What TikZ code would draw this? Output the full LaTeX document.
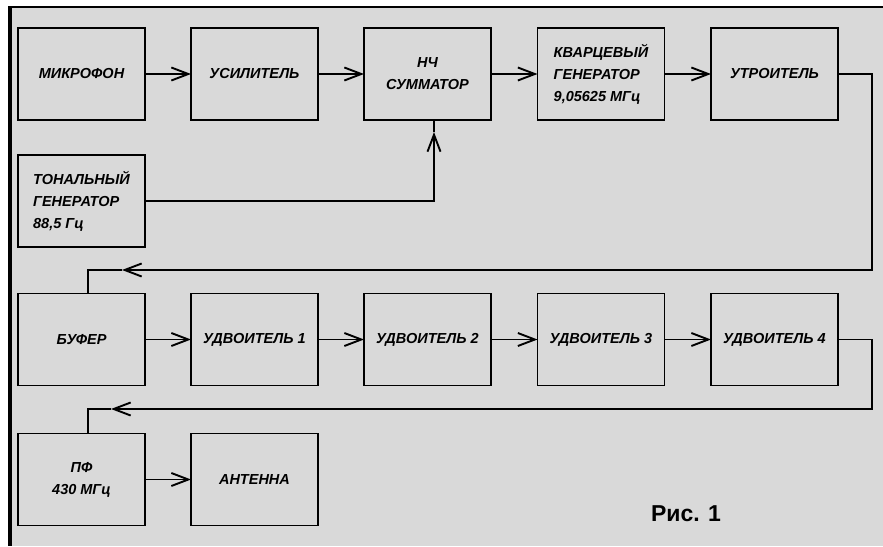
\documentclass[tikz,border=0pt]{standalone}
\usepackage{fontspec}
\setmainfont{Liberation Sans}
\newfontfamily\gost{Liberation Sans}
\usetikzlibrary{arrows.meta}
\definecolor{bggrey}{RGB}{217,217,217}
\tikzset{
  blk/.style={draw=black, line width=1.9pt, minimum width=127pt, minimum height=92pt,
    inner sep=0pt, outer sep=0pt, font=\gost\bfseries\itshape\fontsize{14.5}{22}\selectfont, align=center},
  blkl/.style={blk, align=left},
  conn/.style={draw=black, line width=1.9pt},
  arr/.style={conn, -{Straight Barb[length=17pt,width=13pt,line width=1.9pt]}}
}
\begin{document}
\begin{tikzpicture}[x=1pt,y=-1pt]
\useasboundingbox (0,0) rectangle (883,546);
\fill[bggrey] (10,7) rectangle (883,546);
\draw[line width=2pt] (10,7) -- (883,7);
\draw[line width=4pt] (10,6) -- (10,546);

% row 1
\node[blk] (mic) at (81.5,74) {МИКРОФОН};
\node[blk] (amp) at (254.5,74) {УСИЛИТЕЛЬ};
\node[blk] (sum) at (427.5,74) {НЧ\\СУММАТОР};
\node[blkl] (xo) at (601,74) {КВАРЦЕВЫЙ\\ГЕНЕРАТОР\\9,05625 МГц};
\node[blk] (tri) at (774.5,74) {УТРОИТЕЛЬ};
% row 2
\node[blkl] (ton) at (81.5,201) {ТОНАЛЬНЫЙ\\ГЕНЕРАТОР\\88,5 Гц};
% row 3
\node[blk] (buf) at (81.5,339.5) {БУФЕР};
\node[blk] (d1) at (254.5,339.5) {УДВОИТЕЛЬ 1};
\node[blk] (d2) at (427.5,339.5) {УДВОИТЕЛЬ 2};
\node[blk] (d3) at (601,339.5) {УДВОИТЕЛЬ 3};
\node[blk] (d4) at (774.5,339.5) {УДВОИТЕЛЬ 4};
% row 4
\node[blk] (pf) at (81.5,479.5) {ПФ\\430 МГц};
\node[blk] (ant) at (254.5,479.5) {АНТЕННА};

\node[font=\bfseries\fontsize{23}{26}\selectfont] (cap) at (686,514) {Рис. 1};

% connectors
\draw[arr] (mic.east) -- (amp.west);
\draw[arr] (amp.east) -- (sum.west);
\draw[arr] (sum.east) -- (xo.west);
\draw[arr] (xo.east) -- (tri.west);
\draw[arr] (buf.east) -- (d1.west);
\draw[arr] (d1.east) -- (d2.west);
\draw[arr] (d2.east) -- (d3.west);
\draw[arr] (d3.east) -- (d4.west);
\draw[arr] (pf.east) -- (ant.west);

\coordinate (va) at (434,132);
\draw[arr] (ton.east) -| (va);
\draw[conn] (va) -- (va |- sum.south);

\coordinate (fa) at (122,270);
\draw[arr] (tri.east) -- (872,74) -- (872,270) -- (fa);
\draw[conn] (fa) -- (88,270) -- (88,270 |- buf.north);

\coordinate (fb) at (111,409);
\draw[arr] (d4.east) -- (872,339.5) -- (872,409) -- (fb);
\draw[conn] (fb) -- (88,409) -- (88,409 |- pf.north);
\end{tikzpicture}
\end{document}
